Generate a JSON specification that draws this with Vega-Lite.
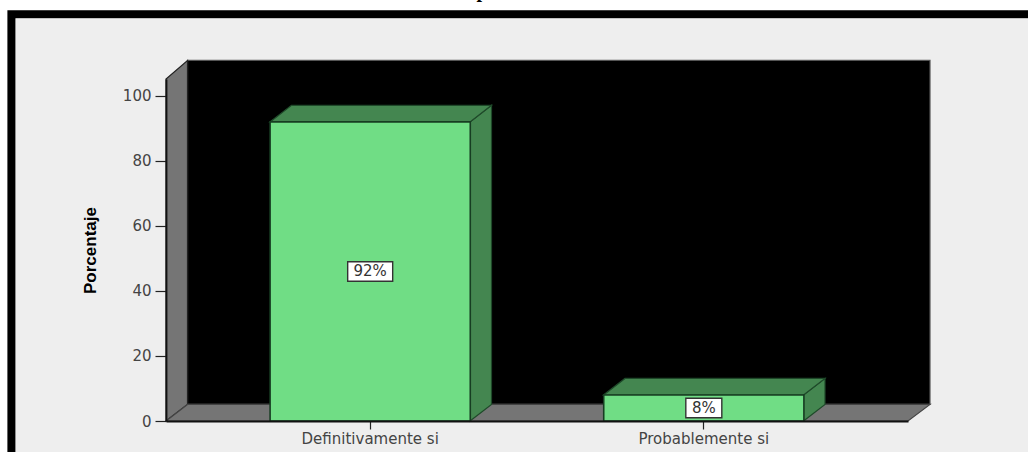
{
  "$schema": "https://vega.github.io/schema/vega-lite/v6.json",
  "width": 742,
  "height": 342,
  "autosize": "none",
  "padding": {"left": 166, "top": 79, "right": 120, "bottom": 31},
  "background": "#ffffff",
  "view": {"stroke": null},
  "datasets": {
    "respuestas": [
      {"respuesta": "Definitivamente si", "porcentaje": 92, "etiqueta": "92%"},
      {"respuesta": "Probablemente si", "porcentaje": 8, "etiqueta": "8%"}
    ],
    "titulo": [
      {"texto": "p", "x": 1.336, "y": 130.3}
    ],
    "caras": [
      {"cara": "marco", "x": -0.086, "y": -10, "y2": 126.15},
      {"cara": "marco", "x": 3.1, "y": -10, "y2": 126.15},
      {"cara": "panel", "x": -0.062, "y": -10, "y2": 123.7},
      {"cara": "panel", "x": 3.1, "y": -10, "y2": 123.7},
      {"cara": "fondo", "x": 0.4525, "y": 5.1, "y2": 110.9},
      {"cara": "fondo", "x": 2.68, "y": 5.1, "y2": 110.9},
      {"cara": "pared", "x": 0.388, "y": 0, "y2": 105.2},
      {"cara": "pared", "x": 0.4525, "y": 5.1, "y2": 110.9},
      {"cara": "suelo", "x": 0.388, "y": 0, "y2": 0},
      {"cara": "suelo", "x": 0.4525, "y": 0, "y2": 5.1},
      {"cara": "suelo", "x": 2.614, "y": 0, "y2": 5.1},
      {"cara": "suelo", "x": 2.68, "y": 5.1, "y2": 5.1},
      {"cara": "lado 92", "x": 1.3, "y": 0, "y2": 92},
      {"cara": "lado 92", "x": 1.3645, "y": 5.1, "y2": 97.1},
      {"cara": "tapa 92", "x": 0.7, "y": 92, "y2": 92},
      {"cara": "tapa 92", "x": 0.7645, "y": 92, "y2": 97.1},
      {"cara": "tapa 92", "x": 1.3, "y": 92, "y2": 97.1},
      {"cara": "tapa 92", "x": 1.3645, "y": 97.1, "y2": 97.1},
      {"cara": "lado 8", "x": 2.3006, "y": 0, "y2": 8},
      {"cara": "lado 8", "x": 2.365, "y": 5.1, "y2": 13.1},
      {"cara": "tapa 8", "x": 1.7006, "y": 8, "y2": 8},
      {"cara": "tapa 8", "x": 1.765, "y": 8, "y2": 13.1},
      {"cara": "tapa 8", "x": 2.3006, "y": 8, "y2": 13.1},
      {"cara": "tapa 8", "x": 2.365, "y": 13.1, "y2": 13.1}
    ]
  },
  "resolve": {"scale": {"x": "independent"}, "axis": {"x": "independent", "y": "independent"}},
  "layer": [
    {
      "data": {"name": "caras"},
      "mark": {"type": "area", "strokeWidth": 1.2, "interpolate": "linear"},
      "encoding": {
        "x": {"field": "x", "type": "quantitative", "axis": null,
              "scale": {"domain": [0.388, 2.614], "nice": false, "zero": false}},
        "y": {"field": "y", "type": "quantitative", "stack": null,
              "scale": {"domain": [0, 105.2], "nice": false},
              "axis": {"values": [0, 20, 40, 60, 80, 100], "title": "Porcentaje", "zindex": 1,
                       "titleFont": "Liberation Sans", "titleFontSize": 17, "titleFontWeight": "bold",
                       "titleColor": "#000000", "titlePadding": 23,
                       "labelFont": "DejaVu Sans", "labelFontSize": 15, "labelColor": "#444444", "labelPadding": 4,
                       "tickSize": 11, "tickColor": "#222222", "tickWidth": 1.2,
                       "domainColor": "#111111", "domainWidth": 1.8, "grid": false}},
        "y2": {"field": "y2"},
        "color": {"field": "cara", "type": "nominal", "legend": null,
                  "scale": {"domain": ["marco", "panel", "fondo", "pared", "suelo", "lado 92", "tapa 92", "lado 8", "tapa 8"],
                            "range": ["#000000", "#eeeeee", "#000000", "#757575", "#757575", "#448650", "#448650", "#448650", "#448650"]}},
        "stroke": {"field": "cara", "type": "nominal", "legend": null,
                   "scale": {"domain": ["marco", "panel", "fondo", "pared", "suelo", "lado 92", "tapa 92", "lado 8", "tapa 8"],
                             "range": ["#000000", "#eeeeee", "#555555", "#222222", "#444444", "#1f4a2a", "#1f4a2a", "#1f4a2a", "#1f4a2a"]}}
      }
    },
    {
      "data": {"name": "titulo"},
      "mark": {"type": "text", "font": "Liberation Serif", "fontSize": 20, "fontWeight": "bold", "color": "#000000", "baseline": "alphabetic"},
      "encoding": {
        "x": {"field": "x", "type": "quantitative", "axis": null,
              "scale": {"domain": [0.388, 2.614], "nice": false, "zero": false}},
        "y": {"field": "y", "type": "quantitative", "axis": null,
              "scale": {"domain": [0, 105.2], "nice": false}},
        "text": {"field": "texto"}
      }
    },
    {
      "data": {"name": "respuestas"},
      "mark": {"type": "bar", "fill": "#70dd85", "stroke": "#173d22", "strokeWidth": 1.6},
      "encoding": {
        "x": {"field": "respuesta", "type": "nominal", "sort": null,
              "scale": {"type": "band", "paddingInner": 0.4, "paddingOuter": 0.312},
              "axis": {"title": null, "labelAngle": 0, "zindex": 1, "labelFont": "DejaVu Sans", "labelFontSize": 15,
                       "labelColor": "#444444", "labelPadding": 2, "tickSize": 8, "tickColor": "#222222",
                       "tickWidth": 1.2, "domainColor": "#111111", "domainWidth": 1.8}},
        "y": {"field": "porcentaje", "type": "quantitative", "axis": null,
              "scale": {"domain": [0, 105.2], "nice": false}}
      }
    },
    {
      "data": {"name": "respuestas"},
      "transform": [
        {"calculate": "datum.porcentaje / 2", "as": "medio"},
        {"calculate": "datum.medio - 3", "as": "caja_inf"},
        {"calculate": "datum.medio + 3", "as": "caja_sup"}
      ],
      "mark": {"type": "bar", "fill": "#ffffff", "stroke": "#333333", "strokeWidth": 1.4},
      "encoding": {
        "x": {"field": "respuesta", "type": "nominal", "sort": null, "axis": null,
              "scale": {"type": "band", "paddingInner": 0.4, "paddingOuter": 0.312}},
        "y": {"field": "caja_inf", "type": "quantitative", "axis": null,
              "scale": {"domain": [0, 105.2], "nice": false}},
        "y2": {"field": "caja_sup"},
        "size": {"condition": {"test": "datum.porcentaje > 50", "value": 45}, "value": 36}
      }
    },
    {
      "data": {"name": "respuestas"},
      "transform": [
        {"calculate": "datum.porcentaje / 2", "as": "medio"}
      ],
      "mark": {"type": "text", "font": "DejaVu Sans", "fontSize": 15, "color": "#333333", "baseline": "middle"},
      "encoding": {
        "x": {"field": "respuesta", "type": "nominal", "sort": null, "axis": null,
              "scale": {"type": "band", "paddingInner": 0.4, "paddingOuter": 0.312}},
        "y": {"field": "medio", "type": "quantitative", "axis": null,
              "scale": {"domain": [0, 105.2], "nice": false}},
        "text": {"field": "etiqueta"}
      }
    }
  ]
}
